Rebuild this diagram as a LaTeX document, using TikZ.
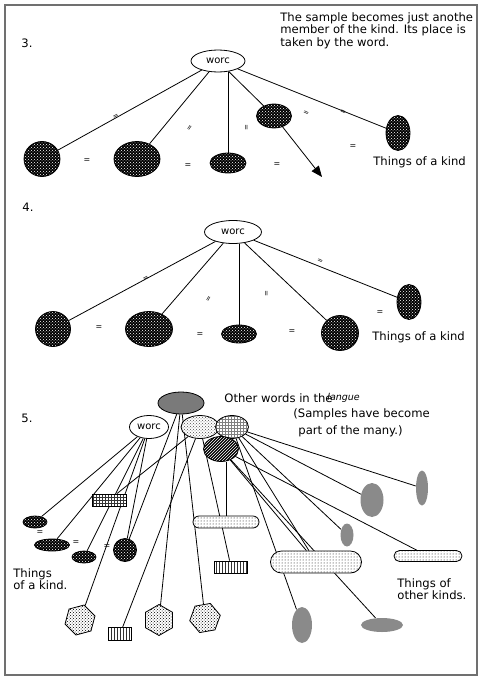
\documentclass[tikz,border=0pt]{standalone}
\usepackage{fontspec}
\setmainfont{DejaVu Sans}
\usepackage{tikz}
\usetikzlibrary{positioning, shapes.geometric, shapes.misc, patterns, arrows.meta, backgrounds}
\definecolor{colorG}{HTML}{8A8A8A}
\definecolor{colorD}{HTML}{7A7A7A}
\definecolor{colorR}{HTML}{707070}
\tikzset{
  txt/.style={inner sep=0pt, font=\fontsize{11.6}{12.5}\selectfont},
  wordnode/.style={ellipse, draw, fill=white, inner sep=0pt, minimum width=54pt, minimum height=22pt, font=\fontsize{10}{10}\selectfont},
  thing/.style={ellipse, draw, inner sep=0pt, preaction={fill=black}, pattern=crosshatch dots, pattern color=white},
  other/.style={ellipse, fill=colorG, inner sep=0pt},
  hexa/.style={regular polygon, regular polygon sides=6, draw, inner sep=0pt, minimum size=31pt, preaction={fill=white}, pattern=crosshatch dots, pattern color=black},
  tag/.style={rectangle, draw, inner sep=0pt, preaction={fill=white}, pattern=vertical lines, pattern color=black!80},
  pill/.style={rounded rectangle, draw, inner sep=0pt, preaction={fill=white}, pattern=dots, pattern color=black},
  link/.style={line width=0.8pt},
  eqsign/.style={inner sep=0pt, font=\fontsize{8}{8}\selectfont},
  eqmark/.style={inner sep=0pt, font=\fontsize{7}{7}\selectfont}
}

\begin{document}
\begin{tikzpicture}[x=1pt, y=-1pt, line width=0.8pt]
    \useasboundingbox (0,0) rectangle (483,683);
    \draw[colorR, line width=1.3pt] (5,5) rectangle (477,675);

    \begin{scope}
        \node[txt, anchor=west] (p3) at (21,43) {3.};
        \node[txt, anchor=north west, align=left] (note3) at (280,12) {The sample becomes just anothe\\member of the kind. Its place is\\taken by the word.};
        \node[wordnode] (w3) at (218,61) {worc};
        \node[thing, minimum width=36pt, minimum height=35pt] (k31) at (42,159) {};
        \node[thing, minimum width=46pt, minimum height=35pt] (k32) at (137,159) {};
        \node[thing, minimum width=36pt, minimum height=20pt] (k33) at (228,163) {};
        \node[thing, minimum width=35pt, minimum height=24pt] (k34) at (274,116) {};
        \node[thing, minimum width=24pt, minimum height=35pt] (k35) at (398,133) {};
        \coordinate (tip3) at (322,177);
        \draw (w3) -- (k31);
        \draw (w3) -- (k32);
        \draw (k33.north |- w3.south) -- (k33.north);
        \draw (w3) -- (k34);
        \draw (w3) -- (k35);
        \draw[-{Triangle[length=11pt,width=9pt]}] (k34) -- (tip3);
        \node[eqmark, rotate=28] (m31) at (116,117) {=};
        \node[eqmark, rotate=55] (m32) at (190,128) {=};
        \node[eqmark, rotate=90] (m33) at (247,128) {=};
        \node[eqmark, rotate=-25] (m34) at (306,113) {=};
        \node[eqmark, rotate=-25] (m35) at (343,112) {=};
        \node[eqsign] (e31) at (87,161) {=};
        \node[eqsign] (e32) at (188,166) {=};
        \node[eqsign] (e33) at (277,165) {=};
        \node[eqsign] (e34) at (353,147) {=};
        \node[txt, anchor=west] (kind3) at (373,162) {Things of a kind};
    \end{scope}

    \begin{scope}
        \node[txt, anchor=west] (p4) at (22,207) {4.};
        \node[wordnode, minimum width=57pt, minimum height=23pt] (w4) at (233,232) {worc};
        \node[thing, minimum width=35pt, minimum height=35pt] (k41) at (53,329) {};
        \node[thing, minimum width=47pt, minimum height=35pt] (k42) at (149,329) {};
        \node[thing, minimum width=35pt, minimum height=18pt] (k43) at (239,334) {};
        \node[thing, minimum width=37pt, minimum height=35pt] (k44) at (340,333) {};
        \node[thing, minimum width=24pt, minimum height=35pt] (k45) at (409,302) {};
        \draw (w4) -- (k41);
        \draw (w4) -- (k42);
        \draw (k43.north |- w4.south) -- (k43.north);
        \draw (w4) -- (k44);
        \draw (w4) -- (k45);
        \node[eqmark, rotate=28] (m41) at (146,279) {=};
        \node[eqmark, rotate=60] (m42) at (209,299) {=};
        \node[eqmark, rotate=90] (m43) at (267,294) {=};
        \node[eqmark, rotate=-25] (m44) at (320,261) {=};
        \node[eqsign] (e41) at (99,328) {=};
        \node[eqsign] (e42) at (200,335) {=};
        \node[eqsign] (e43) at (292,332) {=};
        \node[eqsign] (e44) at (380,313) {=};
        \node[txt, anchor=west] (kind4) at (372,337) {Things of a kind};
    \end{scope}

    \begin{scope}
        \node[txt, anchor=west] (p5) at (21,418) {5.};
        \node[other, draw, fill=colorD, minimum width=46pt, minimum height=22pt] (top5) at (181,403) {};
        \node[wordnode, minimum width=39pt, minimum height=23pt] (w5) at (149,427) {worc};
        \node[ellipse, draw, inner sep=0pt, minimum width=38pt, minimum height=23pt, preaction={fill=white}, pattern=crosshatch dots, pattern color=black!70] (dot5) at (200,427) {};
        \node[ellipse, draw, inner sep=0pt, minimum width=33pt, minimum height=23pt, preaction={fill=white}, pattern=grid, pattern color=black!50] (grid5) at (232,427) {};
        \node[ellipse, draw, inner sep=0pt, minimum width=35pt, minimum height=25pt, preaction={fill=black}, pattern=north east lines, pattern color=white] (hatch5) at (221,449) {};
        \node[txt, anchor=west] (other5) at (224,398) {Other words in the};
        \node[txt, right=-6pt of other5, font=\fontsize{9.5}{9.5}\selectfont] (lang5) {\textit{langue}};
        \node[txt, anchor=west] (samp5) at (293,414) {(Samples have become};
        \node[txt, anchor=west] (many5) at (298,431) {part of the many.)};

        \node[thing, minimum width=24pt, minimum height=12pt] (a1) at (35,522) {};
        \node[thing, minimum width=35pt, minimum height=12pt] (a2) at (52,545) {};
        \node[thing, minimum width=24pt, minimum height=12pt] (a3) at (84,557) {};
        \node[thing, minimum width=23pt, minimum height=23pt] (a4) at (125,550) {};
        \node[eqsign] (e51) at (40,533) {=};
        \node[eqsign] (e52) at (76,543) {=};
        \node[eqsign] (e53) at (107,547) {=};
        \node[txt, anchor=west, align=left] (kind5) at (13,579) {Things\\of a kind.};

        \node[tag, pattern=grid, minimum width=34pt, minimum height=12pt] (r1) at (109,500) {};
        \node[tag, minimum width=33pt, minimum height=12pt] (r2) at (231,567) {};
        \node[tag, minimum width=23pt, minimum height=13pt] (r3) at (120,634) {};
        \node[pill, minimum width=66pt, minimum height=12pt] (s1) at (226,522) {};
        \node[pill, minimum width=91pt, minimum height=22pt] (s2) at (316,562) {};
        \node[pill, minimum width=68pt, minimum height=11pt] (s3) at (428,556) {};
        \node[hexa, rotate=15] (h1) at (80,620) {};
        \node[hexa, rotate=30] (h2) at (159,620) {};
        \node[hexa, rotate=10] (h3) at (205,618) {};
        \node[other, minimum width=13pt, minimum height=23pt] (g1) at (347,535) {};
        \node[other, minimum width=23pt, minimum height=34pt] (g2) at (372,500) {};
        \node[other, minimum width=12pt, minimum height=35pt] (g3) at (422,488) {};
        \node[other, minimum width=20pt, minimum height=36pt] (g4) at (302,625) {};
        \node[other, minimum width=42pt, minimum height=14pt] (g5) at (382,625) {};
        \node[txt, anchor=west, align=left] (kinds5) at (397,589) {Things of\\other kinds.};

        \begin{pgfonlayer}{background}
            \draw[link] (w5) -- (a1);
            \draw[link] (w5) -- (a2);
            \draw[link] (w5) -- (a3);
            \draw[link] (w5) -- (a4);
            \draw[link] (w5) -- (h1);
            \draw[link] (top5) -- (a4);
            \draw[link] (top5) -- (h2);
            \draw[link] (top5) -- (h3);
            \draw[link] (dot5) -- (r1);
            \draw[link] (dot5) -- (r3);
            \draw[link] (dot5) -- (r2);
            \draw[link] (hatch5.south -| s1.north) -- (s1.north);
            \draw[link] (hatch5) -- (s2);
            \draw[link] (hatch5) -- (g5);
            \draw[link] (hatch5) -- (s3);
            \draw[link] (grid5) -- (g1);
            \draw[link] (grid5) -- (g2);
            \draw[link] (grid5) -- (g3);
            \draw[link] (grid5) -- (g4);
            \draw[link] (grid5) -- (s2);
        \end{pgfonlayer}
    \end{scope}
\end{tikzpicture}
\end{document}
